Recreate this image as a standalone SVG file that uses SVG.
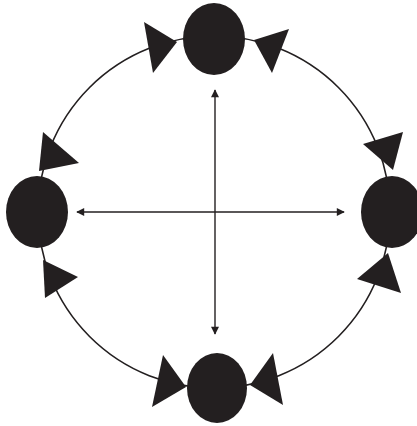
<svg xmlns="http://www.w3.org/2000/svg" width="417" height="426" viewBox="0 0 417 426">
<defs>
<style>
.node{fill:#231f20}
.tri{fill:#231f20}
.ring{fill:none;stroke:#231f20;stroke-width:1.6}
.axis{fill:none;stroke:#231f20;stroke-width:1.4}
</style>
<marker id="ah" viewBox="0 0 10 10" refX="9" refY="5" markerWidth="10" markerHeight="8" markerUnits="userSpaceOnUse" orient="auto-start-reverse">
<path d="M0,0 L10,5 L0,10 Z" fill="#231f20"/>
</marker>
</defs>
<rect width="417" height="426" fill="#ffffff"/>
<g id="connectors">
<circle class="ring" cx="214" cy="212" r="176"/>
<line class="axis" x1="215" y1="90" x2="215" y2="334" marker-start="url(#ah)" marker-end="url(#ah)"/>
<line class="axis" x1="77" y1="212" x2="344" y2="212" marker-start="url(#ah)" marker-end="url(#ah)"/>
<polygon class="tri" points="144,22 177,42 153,73"/>
<polygon class="tri" points="289,29 254,40 272,73"/>
<polygon class="tri" points="43,132 79,163 39,171"/>
<polygon class="tri" points="43,260 78,277 45,298"/>
<polygon class="tri" points="363,144 403,132 393,170"/>
<polygon class="tri" points="357,279 388,253 401,293"/>
<polygon class="tri" points="163,355 186,387 152,407"/>
<polygon class="tri" points="273,353 250,385 283,405"/>
</g>
<g id="node-top"><ellipse class="node" cx="214" cy="39" rx="31" ry="36"/></g>
<g id="node-left"><ellipse class="node" cx="37" cy="212" rx="31" ry="36"/></g>
<g id="node-right"><ellipse class="node" cx="392" cy="212" rx="31" ry="36"/></g>
<g id="node-bottom"><ellipse class="node" cx="217" cy="388" rx="30" ry="35"/></g>
</svg>
